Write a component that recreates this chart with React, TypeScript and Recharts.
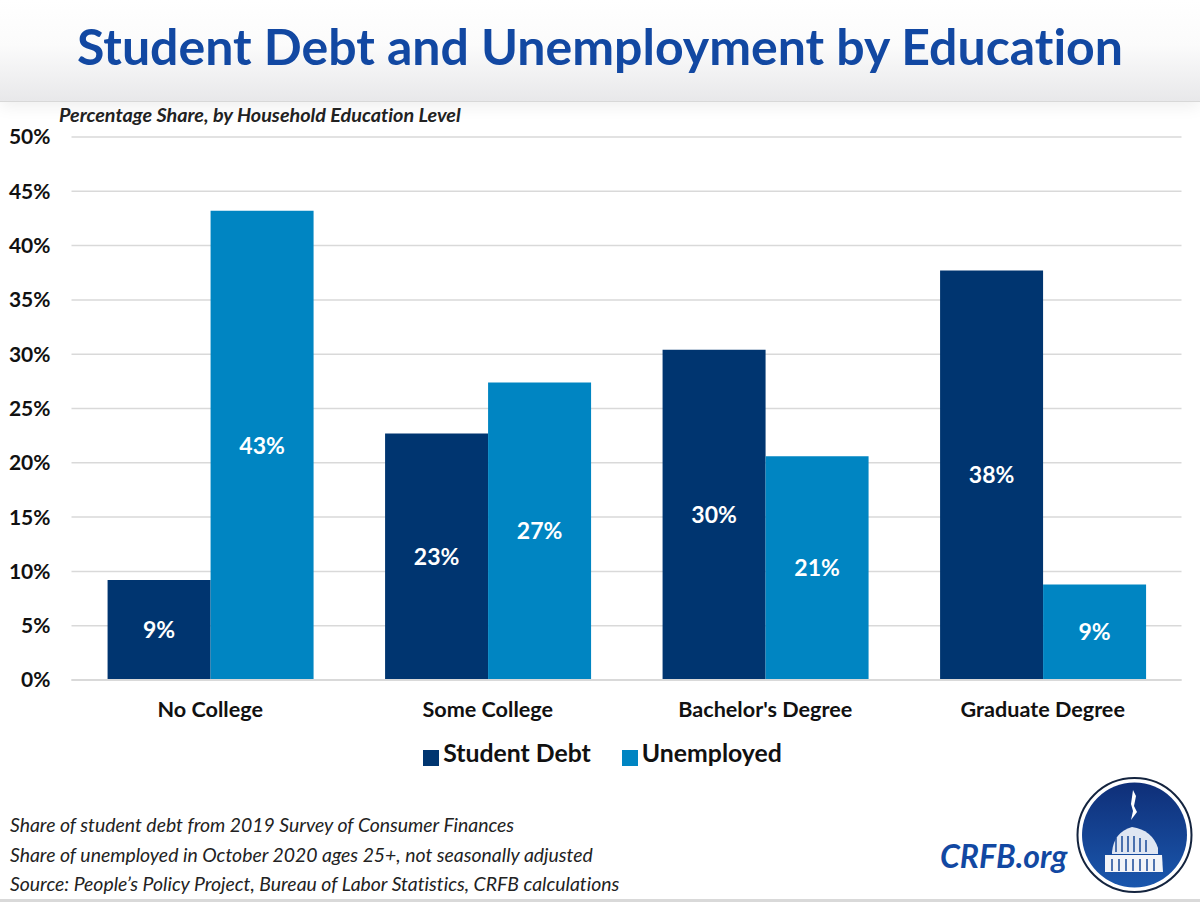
import { BarChart, Bar, XAxis, YAxis, CartesianGrid, Legend, LabelList } from 'recharts'

const categories = ['No College', 'Some College', "Bachelor's Degree", 'Graduate Degree']
const studentDebt = [9.2, 22.7, 30.4, 37.7]
const unemployed = [43.2, 27.4, 20.6, 8.8]
const yTicks = [0, 5, 10, 15, 20, 25, 30, 35, 40, 45, 50]
const notes = [
  'Share of student debt from 2019 Survey of Consumer Finances',
  'Share of unemployed in October 2020 ages 25+, not seasonally adjusted',
  'Source: People’s Policy Project, Bureau of Labor Statistics, CRFB calculations',
]

const data = categories.map((name, i) => ({ name, debt: studentDebt[i], unemployed: unemployed[i] }))
const font = 'Lato, "Open Sans", sans-serif'
const pct = (v: unknown) => `${Math.round(Number(v))}%`
const barLabel = { fontSize: 23, fontWeight: 700, fill: '#fff', fontFamily: font }

function CapitolLogo() {
  return (
    <svg width={118} height={118} viewBox="0 0 118 118" style={{ position: 'absolute', left: 1076, top: 776 }}>
      <defs>
        <linearGradient id="seal" x1="0" y1="0" x2="0" y2="1">
          <stop offset="0%" stopColor="#0f2f78" />
          <stop offset="100%" stopColor="#1a57ad" />
        </linearGradient>
      </defs>
      <circle cx={58.5} cy={59} r={57} fill="#fff" stroke="#14243f" strokeWidth={2} />
      <circle cx={58.5} cy={59} r={52.5} fill="url(#seal)" />
      <path d="M57 14 L60 20 L58 30 L61 36 L55 44 L57 35 L55 28 Z" fill="#fff" />
      <path d="M36 76 Q38 56 56 51 Q76 54 82 72 L82 78 L36 78 Z" fill="#dfe6f2" />
      <path d="M29 79 L86 79 L87 96 L29 96 Z" fill="#f2f4f8" />
      <path d="M40 62v14M46 60v16M52 60v16M58 60v16M64 62v14M70 64v12M36 83v12M43 83v12M50 83v12M57 83v12M64 83v12M71 83v12M78 83v12" stroke="#1a4a98" strokeWidth={1.5} />
    </svg>
  )
}

export default function App() {
  return (
    <div style={{ position: 'absolute', left: 0, top: 0, width: 1200, height: 902, background: '#fff', overflow: 'hidden', fontFamily: font, fontVariantLigatures: 'none' }}>
      <div style={{ position: 'absolute', left: 0, top: 0, width: 1200, height: 101, background: 'linear-gradient(#ffffff 0%, #fbfbfb 45%, #e8e8ea 100%)', borderBottom: '1px solid #d8d8d8', boxShadow: '0 4px 16px rgba(0,0,0,0.07)' }} />
      <div style={{ position: 'absolute', left: 0, top: 16, width: 1200, textAlign: 'center', fontSize: 50, fontWeight: 700, color: '#1248a2', whiteSpace: 'nowrap' }}>
        Student Debt and Unemployment by Education
      </div>
      <div style={{ position: 'absolute', left: 59, top: 102, fontSize: 19.8, fontWeight: 700, fontStyle: 'italic', color: '#222', whiteSpace: 'nowrap' }}>
        Percentage Share, by Household Education Level
      </div>

      <div style={{ position: 'absolute', left: 0, top: 0 }}>
        <BarChart width={1200} height={790} data={data} barCategoryGap="13%" barGap={0} margin={{ top: 137, right: 18.5, bottom: 46, left: 9.5 }}>
          <CartesianGrid vertical={false} stroke="#d9d9d9" strokeWidth={1.5} />
          <XAxis dataKey="name" height={30} tickLine={false} axisLine={{ stroke: '#d9d9d9', strokeWidth: 2 }} tick={{ fontSize: 21.6, fontWeight: 700, fill: '#111', fontFamily: font }} tickMargin={16} interval={0} />
          <YAxis domain={[0, 50]} ticks={yTicks} width={62} tickLine={false} axisLine={false} tickFormatter={(v) => `${v}%`} tick={{ fontSize: 21, fontWeight: 700, fill: '#111', fontFamily: font }} tickMargin={15} />
          <Legend
            align="center"
            verticalAlign="bottom"
            height={34}
            iconType="square"
            iconSize={16}
            formatter={(value) => <span style={{ color: '#111', fontSize: 24.8, fontWeight: 700, fontFamily: font, marginRight: value === 'Student Debt' ? 21 : 0 }}>{value}</span>}
            wrapperStyle={{ left: 0, width: 1215, top: 738 }}
          />
          <Bar dataKey="debt" name="Student Debt" fill="#003570" isAnimationActive={false}>
            <LabelList dataKey="debt" position="center" formatter={pct} style={barLabel} />
          </Bar>
          <Bar dataKey="unemployed" name="Unemployed" fill="#0085c2" isAnimationActive={false}>
            <LabelList dataKey="unemployed" position="center" formatter={pct} style={barLabel} />
          </Bar>
        </BarChart>
      </div>

      {notes.map((note, i) => (
        <div key={note} style={{ position: 'absolute', left: 10, top: 813 + i * 29.5, fontSize: 19.4, fontStyle: 'italic', color: '#222', whiteSpace: 'nowrap' }}>
          {note}
        </div>
      ))}
      <div style={{ position: 'absolute', left: 940, top: 836, fontSize: 32, fontWeight: 700, fontStyle: 'italic', color: '#1248a2' }}>CRFB.org</div>
      <CapitolLogo />
      <div style={{ position: 'absolute', left: 0, top: 899, width: 1200, height: 3, background: '#d9d9d9' }} />
    </div>
  )
}
